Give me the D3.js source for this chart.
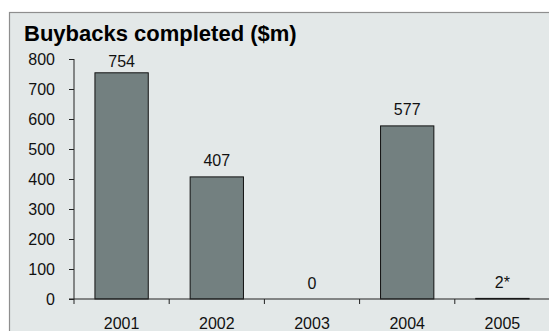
<!DOCTYPE html>
<html>
<head>
<meta charset="utf-8">
<script src="https://cdn.jsdelivr.net/npm/d3@7"></script>
<style>
  html, body { margin: 0; padding: 0; background: #fff; }
  svg { display: block; font-family: "Liberation Sans", Arial, sans-serif; }
</style>
</head>
<body>
<svg id="chart" width="549" height="331"></svg>
<script>
// Buybacks completed per year ($m)
const years = ["2001", "2002", "2003", "2004", "2005"];
const buybacks = [754, 407, 0, 577, 2];
const valueLabels = ["754", "407", "0", "577", "2*"];
const yTicks = [0, 100, 200, 300, 400, 500, 600, 700, 800];
const title = "Buybacks completed ($m)";

const svg = d3.select("#chart");
const W = 549, H = 331;

// panel background with grey border on top and left
svg.append("rect")
  .attr("x", 9.5).attr("y", 12.5)
  .attr("width", W + 10).attr("height", H + 10)
  .attr("fill", "#e3e8e8")
  .attr("stroke", "#8e8e8e")
  .attr("stroke-width", 1.2);

svg.append("text")
  .attr("x", 24).attr("y", 41)
  .attr("font-size", 22).attr("font-weight", "bold")
  .attr("fill", "#000")
  .text(title);

const plot = { left: 74, right: 550, top: 59, bottom: 299 };

const x = d3.scaleBand()
  .domain(years)
  .range([plot.left, plot.right])
  .paddingInner(0.44)
  .paddingOuter(0.22);

const y = d3.scaleLinear()
  .domain([0, 800])
  .range([plot.bottom, plot.top]);

// bars
svg.append("g").selectAll("rect")
  .data(years)
  .join("rect")
  .attr("x", d => x(d))
  .attr("width", x.bandwidth())
  .attr("y", (d, i) => y(buybacks[i]))
  .attr("height", (d, i) => y(0) - y(buybacks[i]))
  .attr("fill", "#738080")
  .attr("stroke", "#111")
  .attr("stroke-width", 1);

// y axis
const yAxis = svg.append("g")
  .attr("transform", `translate(${plot.left},0)`)
  .call(d3.axisLeft(y).tickValues(yTicks).tickSize(5).tickPadding(14).tickSizeOuter(0));
yAxis.select(".domain").attr("stroke", "#222").attr("d", `M0,${plot.top}V${plot.bottom + 5}`);
yAxis.selectAll(".tick line").attr("stroke", "#222");
yAxis.selectAll(".tick text")
  .attr("font-size", 16).attr("fill", "#111")
  .attr("font-family", "Liberation Sans, Arial, sans-serif");

// x axis line with ticks between categories
const xg = svg.append("g");
xg.append("line")
  .attr("x1", plot.left - 5).attr("x2", plot.right)
  .attr("y1", y(0)).attr("y2", y(0))
  .attr("stroke", "#222");
const step = x.step();
xg.selectAll("line.sep")
  .data(years.slice(1))
  .join("line")
  .attr("class", "sep")
  .attr("x1", d => x(d) - step * 0.22).attr("x2", d => x(d) - step * 0.22)
  .attr("y1", y(0)).attr("y2", y(0) + 5)
  .attr("stroke", "#222");
xg.selectAll("text")
  .data(years)
  .join("text")
  .attr("x", d => x(d) + x.bandwidth() / 2)
  .attr("y", 329)
  .attr("text-anchor", "middle")
  .attr("font-size", 16).attr("fill", "#111")
  .text(d => d);

// value labels above bars, kept inside the plot area
svg.append("g").selectAll("text")
  .data(years)
  .join("text")
  .attr("x", d => x(d) + x.bandwidth() / 2)
  .attr("y", (d, i) => Math.max(y(buybacks[i]) - 10.5, y(800) + 8))
  .attr("text-anchor", "middle")
  .attr("font-size", 16).attr("fill", "#111")
  .text((d, i) => valueLabels[i]);
</script>
</body>
</html>
